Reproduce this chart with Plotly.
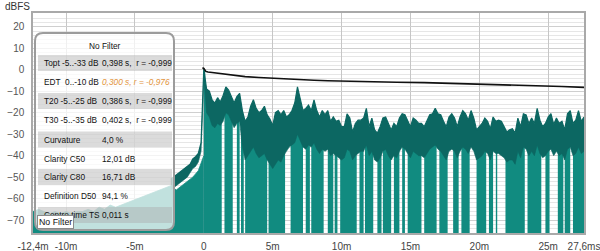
import numpy as np
import plotly.graph_objects as go

# ---------------- data ----------------
# impulse (dB) before the peak, 0.4 ms steps from -12.4 ms to 0 ms
ir_pre_db = [-66, -65, -66, -67, -66, -67, -66, -67, -66, -66, -65, -66, -64, -65, -63, -64,
             -63, -62, -61, -60, -59, -58, -57, -56, -55, -54, -56, -54, -52, -50, -47, -40]
# impulse (dB) after the peak, 0.1 ms steps from 0 to 27.6 ms (-99 = zero crossing)
ir_post_db = [
    0, -8, -12, -15, -18, -19, -20, -21, -22, -21,
    -20, -21, -22, -99, -99, -18, -17, -16, -17, -18,
    -20, -99, -99, -99, -20, -19, -99, -20, -21, -99,
    -34, -35, -33, -32, -30, -29, -31, -33, -34, -35,
    -36, -35, -34, -33, -34, -36, -99, -37, -38, -39,
    -40, -41, -38, -37, -36, -37, -38, -36, -35, -99,
    -99, -99, -99, -33, -32, -31, -30, -28, -24, -26,
    -29, -31, -99, -99, -33, -33, -32, -99, -32, -33,
    -31, -30, -32, -33, -35, -34, -33, -99, -99, -99,
    -34, -33, -35, -36, -99, -35, -34, -99, -99, -36,
    -37, -38, -36, -35, -34, -36, -38, -37, -36, -35,
    -36, -99, -99, -35, -34, -34, -99, -33, -32, -31,
    -35, -34, -36, -99, -99, -99, -37, -36, -35, -99,
    -34, -33, -32, -34, -36, -37, -99, -99, -36, -35,
    -36, -34, -99, -99, -33, -32, -99, -99, -35, -36,
    -38, -36, -35, -34, -35, -36, -37, -36, -99, -99,
    -38, -37, -35, -34, -33, -32, -31, -33, -34, -99,
    -99, -34, -35, -36, -38, -37, -36, -99, -99, -99,
    -99, -34, -33, -35, -36, -99, -99, -34, -33, -32,
    -33, -32, -34, -99, -99, -99, -99, -99, -36, -37,
    -37, -36, -35, -34, -36, -99, -99, -37, -38, -36,
    -99, -99, -35, -99, -99, -99, -99, -99, -99, -36,
    -38, -39, -38, -37, -38, -39, -38, -37, -35, -34,
    -33, -32, -33, -99, -99, -35, -34, -35, -36, -35,
    -34, -33, -31, -30, -32, -99, -99, -99, -34, -35,
    -33, -99, -99, -99, -99, -99, -99, -34, -35, -36,
    -35, -99, -33, -32, -31, -32, -99, -99, -33, -32,
    -31, -33, -34, -32, -31, -33, -32]
# energy-time envelope band, 0.2 ms steps from -2.4 ms to 27.6 ms
etc_top_db = [
    -51, -50, -49, -48, -47, -46, -45, -44, -41.5, -40.5, -39, -34,
    0.5, -9, -10, -14, -15.5, -13, -15, -12, -8, -9.5,
    -12.5, -15.5, -12.5, -11, -19, -24, -22, -17, -14, -18,
    -20, -19, -17, -21, -23, -26, -20, -19, -21, -19,
    -22, -21, -19, -15.5, -8, -14, -19, -18, -16.5, -19,
    -14, -19, -22, -19, -21, -19, -24, -22, -24, -23.5,
    -26.5, -26.5, -20.5, -22.5, -29, -25, -23.5, -23.5, -22.5, -18,
    -26.5, -22.5, -28, -29.5, -26.5, -22.5, -22, -25, -28, -25,
    -26.5, -22.5, -20.5, -21, -24, -26.5, -22.5, -23.5, -25, -25,
    -26.5, -24, -21, -20.5, -18, -20.5, -21, -24, -26.5, -22,
    -20.5, -22.5, -26.5, -22, -19, -20.5, -23.5, -19, -22.5, -28,
    -26.5, -25, -22.5, -24, -27.5, -22, -24, -23.5, -24, -26.5,
    -29, -28, -27.5, -29.5, -22.5, -26.5, -20.5, -21, -25, -22.5,
    -25, -18, -23.5, -26.5, -25, -22, -20.5, -25.5, -22.5, -25,
    -24, -28, -20.5, -19, -25, -23.5, -19, -24, -22]
etc_bot_db = [
    -56, -55, -54, -53, -52, -51, -50, -48, -46, -45, -43, -38,
    -3, -20, -22, -26, -27, -25, -26, -24, -20, -21,
    -24, -27, -25, -24, -36, -42, -40, -38, -36, -39,
    -41, -40, -39, -42, -44, -46, -44, -42, -43, -40,
    -38, -36, -35, -34, -30, -33, -36, -37, -35, -36,
    -34, -37, -39, -37, -38, -37, -40, -39, -40, -41,
    -42, -41, -37, -38, -42, -40, -39, -38, -38, -35,
    -40, -38, -42, -43, -41, -38, -37, -40, -42, -40,
    -41, -38, -36, -37, -39, -41, -38, -39, -40, -40,
    -41, -39, -37, -36, -35, -37, -38, -40, -42, -38,
    -37, -38, -41, -38, -36, -37, -39, -36, -38, -42,
    -41, -40, -38, -39, -42, -38, -39, -39, -40, -41,
    -43, -42, -42, -44, -38, -41, -36, -37, -40, -38,
    -40, -35, -39, -41, -40, -38, -37, -40, -38, -40,
    -39, -42, -37, -36, -40, -39, -36, -39, -38]
# Schroeder integral
sch_t = [-0.1, 0.0, 0.15, 0.3, 0.6, 1.0, 1.5, 2.0, 2.5, 3.0, 4.0, 5.0, 6.0, 7.0, 8.0, 9.0,
         10.0, 12.0, 14.0, 16.0, 18.0, 20.0, 22.0, 24.0, 26.0, 27.6]
sch_db = [0.9, 0.6, -0.8, -1.1, -1.3, -1.6, -2.0, -2.5, -2.9, -3.2, -3.6, -4.0, -4.3, -4.6, -4.9,
          -5.1, -5.3, -5.6, -5.8, -6.0, -6.3, -6.6, -7.0, -7.4, -7.8, -8.2]

x_tickvals = [-12.4, -10, -5, 0, 5, 10, 15, 20, 25, 27.6]
x_ticktext = ["-12,4m", "-10m", "-5m", "0", "5m", "10m", "15m", "20m", "25m", "27,6ms"]
y_tickvals = [20, 10, 0, -10, -20, -30, -40, -50, -60, -70]

legend_title = "No Filter"
row_labels = ["Topt -5..-33 dB", "EDT  0..-10 dB", "T20 -5..-25 dB", "T30 -5..-35 dB",
              "Curvature", "Clarity C50", "Clarity C80", "Definition D50", "Centre time TS"]
row_values = ["0,398 s,  r = -0,999", "0,300 s, r = -0,976", "0,386 s,  r = -0,999",
              "0,402 s,  r = -0,999", "4,0 %", "12,01 dB", "16,71 dB", "94,1 %", "0,011 s"]

# time grids
pre_t = np.round(-12.4 + 0.4 * np.arange(len(ir_pre_db)), 2)
post_t = np.round(0.1 * np.arange(len(ir_post_db)), 2)
etc_t = np.round(-2.4 + 0.2 * np.arange(len(etc_top_db)), 2)

# ---------------- styling ----------------
W, H = 600, 251
ML, MR, MT, MB = 33, 16, 13, 18
PW, PH = W - ML - MR, H - MT - MB
LIGHT = "rgb(17,139,128)"
DARK = "rgb(12,103,98)"
FONT = "Liberation Sans"
LFS = 8.3


def px(x):
    return (x - ML) / PW


def py(y):
    return (MT + PH - y) / PH


fig = go.Figure()
FLOOR = -100
fig.add_trace(go.Scatter(x=[pre_t[0], pre_t[-1]], y=[FLOOR, FLOOR], mode="lines",
                         line=dict(width=0, color="rgba(0,0,0,0)"), hoverinfo="skip"))
fig.add_trace(go.Scatter(x=pre_t, y=ir_pre_db, mode="lines", fill="tonexty",
                         fillcolor=LIGHT, line=dict(width=0.8, color=LIGHT), hoverinfo="skip"))
fig.add_trace(go.Scatter(x=[post_t[0], post_t[-1]], y=[FLOOR, FLOOR], mode="lines",
                         line=dict(width=0, color="rgba(0,0,0,0)"), hoverinfo="skip"))
fig.add_trace(go.Scatter(x=post_t, y=ir_post_db, mode="lines", line_shape="hv", fill="tonexty",
                         fillcolor=LIGHT, line=dict(width=0, color=LIGHT), hoverinfo="skip"))
fig.add_trace(go.Scatter(x=etc_t, y=etc_bot_db, mode="lines",
                         line=dict(width=0.6, color=DARK), hoverinfo="skip"))
fig.add_trace(go.Scatter(x=etc_t, y=etc_top_db, mode="lines", fill="tonexty",
                         fillcolor=DARK, line=dict(width=1.2, color=DARK), hoverinfo="skip"))
fig.add_trace(go.Scatter(x=sch_t, y=sch_db, mode="lines",
                         line=dict(width=1.6, color="#111111"), hoverinfo="skip"))


def rounded_rect(x0, y0, x1, y1, r):
    pts = [
        ("M", (x0 + r, y0)), ("L", (x1 - r, y0)), ("Q", (x1, y0), (x1, y0 + r)),
        ("L", (x1, y1 - r)), ("Q", (x1, y1), (x1 - r, y1)), ("L", (x0 + r, y1)),
        ("Q", (x0, y1), (x0, y1 - r)), ("L", (x0, y0 + r)), ("Q", (x0, y0), (x0 + r, y0)),
    ]
    s = ""
    for item in pts:
        s += item[0] + " " + " ".join(f"{px(a):.5f},{py(b):.5f}" for a, b in item[1:]) + " "
    return s + "Z"


shapes = [dict(type="path", xref="paper", yref="paper", path=rounded_rect(35, 33, 174, 230, 8),
               fillcolor="rgba(255,255,255,0.74)", line=dict(color="#9c9c9c", width=2), layer="above")]
row_y = [63, 82, 101, 120, 139.5, 158.5, 177, 196, 215]
for i, yc in enumerate(row_y):
    if i % 2 == 0:
        shapes.append(dict(type="rect", xref="paper", yref="paper", x0=px(38), x1=px(172),
                           y0=py(yc + 8), y1=py(yc - 8), fillcolor="rgba(170,170,170,0.42)",
                           line=dict(width=0), layer="above"))


def note(text, x, y, xanchor="left", **kw):
    d = dict(text=text, x=px(x), y=py(y), xref="paper", yref="paper", xanchor=xanchor,
             yanchor="middle", showarrow=False)
    d.update(kw)
    return d


ann = [note("dBFS", 17.5, 6, xanchor="center", font=dict(family=FONT, size=10, color="#333"))]
ann.append(note(legend_title, 104.5, 46, xanchor="center",
                font=dict(family=FONT, size=LFS, color="#111")))
for i, (lab, val) in enumerate(zip(row_labels, row_values)):
    ann.append(note(lab, 42, row_y[i], font=dict(family=FONT, size=LFS, color="#111")))
    if i == 1:
        f = dict(family=FONT, size=LFS, color="rgb(226,148,60)", style="italic")
    else:
        f = dict(family=FONT, size=LFS, color="#111")
    ann.append(note(val, 99.5, row_y[i], font=f))
ann.append(note(legend_title, 36.5, 222, bgcolor="white", bordercolor="#8a8a8a",
                borderwidth=1, borderpad=1, font=dict(family=FONT, size=LFS + 0.5, color="#111")))

fig.update_layout(
    width=W, height=H, margin=dict(l=ML, r=MR, t=MT, b=MB, autoexpand=False),
    paper_bgcolor="white", plot_bgcolor="white", showlegend=False,
    shapes=shapes, annotations=ann,
    xaxis=dict(range=[-12.4, 27.6], tickvals=x_tickvals, ticktext=x_ticktext,
               showgrid=True, gridcolor="#c6c6c6", gridwidth=1, zeroline=False,
               showline=True, mirror=True, linecolor="#a9a9a9", linewidth=1.5,
               ticks="", ticklabelstandoff=3, automargin=False, ticklabeloverflow="allow",
               tickfont=dict(family=FONT, size=10, color="#444")),
    yaxis=dict(range=[-76, 26.4], tickvals=y_tickvals, showgrid=True, gridcolor="#cfcfcf",
               gridwidth=1, zeroline=False, showline=True, mirror=True, linecolor="#a9a9a9",
               linewidth=1.5, ticks="", ticklabelstandoff=5, automargin=False,
               minor=dict(dtick=2, showgrid=True, gridcolor="#e6e6e6", gridwidth=1),
               tickfont=dict(family=FONT, size=10, color="#555")),
)

fig.write_html("out.html")
